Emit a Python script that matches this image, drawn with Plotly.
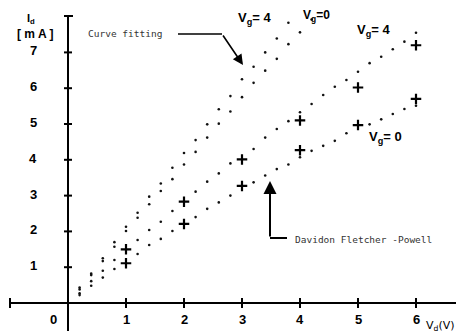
import plotly.graph_objects as go

# ---------------- data ----------------
# curve fitting, Vg = 4
cf_vg4_v = [0.2, 0.4, 0.6, 0.8, 1.0, 1.2, 1.4, 1.6, 1.8, 2.0, 2.2, 2.4, 2.6, 2.8, 3.0, 3.2, 3.4, 3.6, 3.8]
cf_vg4_i = [0.43, 0.82, 1.25, 1.70, 2.13, 2.52, 2.97, 3.34, 3.78, 4.19, 4.55, 4.99, 5.41, 5.78, 6.25, 6.60, 7.00, 7.39, 7.83]
# curve fitting, Vg = 0
cf_vg0_v = [0.2, 0.4, 0.6, 0.8, 1.0, 1.2, 1.4, 1.6, 1.8, 2.0, 2.2, 2.4, 2.6, 2.8, 3.0, 3.2, 3.4, 3.6, 3.8, 4.0, 4.2]
cf_vg0_i = [0.38, 0.78, 1.17, 1.57, 2.01, 2.38, 2.76, 3.13, 3.46, 3.87, 4.22, 4.62, 5.01, 5.35, 5.75, 6.15, 6.49, 6.82, 7.23, 7.56, 7.92]
# Davidon Fletcher-Powell, Vg = 4
dfp_vg4_v = [0.2, 0.4, 0.6, 0.8, 1.2, 1.4, 1.6, 1.8, 2.2, 2.4, 2.6, 2.8, 3.2, 3.4, 3.6, 3.8, 4.0, 4.2, 4.4, 4.6, 4.8, 5.0, 5.2, 5.4, 5.6, 5.8, 6.0]
dfp_vg4_i = [0.27, 0.61, 0.90, 1.20, 1.76, 2.04, 2.27, 2.57, 3.11, 3.39, 3.62, 3.90, 4.30, 4.62, 4.86, 5.08, 5.33, 5.56, 5.81, 6.04, 6.23, 6.46, 6.70, 6.88, 7.09, 7.30, 7.55]
# Davidon Fletcher-Powell, Vg = 0
dfp_vg0_v = [0.2, 0.4, 0.6, 0.8, 1.2, 1.4, 1.6, 1.8, 2.2, 2.4, 2.6, 2.8, 3.2, 3.4, 3.6, 3.8, 4.0, 4.2, 4.4, 4.6, 4.8, 5.2, 5.4, 5.6, 5.8, 6.0]
dfp_vg0_i = [0.22, 0.48, 0.71, 0.95, 1.37, 1.62, 1.79, 2.01, 2.40, 2.63, 2.81, 3.00, 3.37, 3.56, 3.74, 3.87, 4.07, 4.25, 4.39, 4.53, 4.74, 4.99, 5.13, 5.28, 5.42, 5.51]
# measured points
meas_v = [1, 2, 3, 4, 5, 6]
meas_vg4_i = [1.50, 2.83, 4.01, 5.10, 6.02, 7.20]
meas_vg0_i = [1.11, 2.21, 3.27, 4.27, 4.97, 5.70]

x_ticks = [1, 2, 3, 4, 5, 6]
y_ticks = [1, 2, 3, 4, 5, 6, 7]

# ---------------- geometry ----------------
OFF = 8                  # page body margin
W, H = 464 - OFF, 336 - OFF
X0, XS = 68.0 - OFF, 58.0      # figure pixel of Vd=0, pixels per volt
Y0, YS = 303.0 - OFF, 35.8     # figure pixel of Id=0, pixels per mA
xr = [(0 - X0) / XS, (W - X0) / XS]
yr = [(Y0 - H) / YS, (Y0 - 0) / YS]

# helpers take positions in reference-picture pixels
def dx(px):
    return (px - OFF - X0) / XS

def dy(py):
    return (Y0 - (py - OFF)) / YS

def pxp(px):
    return (px - OFF) / W

def pyp(py):
    return 1 - (py - OFF) / H

fig = go.Figure()

dot = dict(size=2.6, color="#111")
for v, i in [(cf_vg4_v, cf_vg4_i), (cf_vg0_v, cf_vg0_i), (dfp_vg4_v, dfp_vg4_i), (dfp_vg0_v, dfp_vg0_i)]:
    fig.add_trace(go.Scatter(x=v, y=i, mode="markers", marker=dot, showlegend=False, hoverinfo="skip"))

plus = dict(symbol="cross-thin", size=7.5, line=dict(width=2.2, color="#000"), color="#000")
for i in [meas_vg4_i, meas_vg0_i]:
    fig.add_trace(go.Scatter(x=meas_v, y=i, mode="markers", marker=plus, showlegend=False, hoverinfo="skip"))

shapes = []
AX = dict(color="#000", width=2)
# x axis
shapes.append(dict(type="line", xref="x", yref="y", x0=dx(10), x1=dx(462), y0=0, y1=0, line=AX))
# y axis
shapes.append(dict(type="line", xref="x", yref="y", x0=0, x1=0, y0=dy(331), y1=dy(16), line=AX))
# y top cap
shapes.append(dict(type="line", xref="x", yref="y", x0=dx(64), x1=dx(73), y0=dy(16), y1=dy(16), line=AX))
# ticks
for t in y_ticks:
    shapes.append(dict(type="line", xref="x", yref="y", x0=dx(64), x1=dx(72), y0=t, y1=t, line=AX))
for t in x_ticks + [dx(10)]:
    shapes.append(dict(type="line", xref="x", yref="y", x0=t, x1=t, y0=dy(298), y1=dy(308), line=AX))
# annotation leader lines
shapes.append(dict(type="line", xref="paper", yref="paper", x0=pxp(178), x1=pxp(222), y0=pyp(34), y1=pyp(34), line=dict(color="#000", width=1.5)))
shapes.append(dict(type="line", xref="paper", yref="paper", x0=pxp(270), x1=pxp(287), y0=pyp(238), y1=pyp(238), line=dict(color="#000", width=2)))

ann = []
TF = dict(family="Liberation Sans", size=13, color="#000")
C = dict(xanchor="center", yanchor="middle", showarrow=False)
for t in x_ticks:
    ann.append(dict(x=t, y=dy(319), xref="x", yref="y", text="<b>%d</b>" % t, font=TF, **C))
ann.append(dict(x=dx(53), y=dy(319), xref="x", yref="y", text="<b>0</b>", font=TF, **C))
for t in y_ticks:
    ann.append(dict(x=dx(33), y=t + 1.5 / YS, xref="x", yref="y", text="<b>%d</b>" % t, font=TF, **C))

LF = dict(family="Liberation Sans", size=13, color="#000")
def lab(px, py, text, font=LF):
    ann.append(dict(x=pxp(px), y=pyp(py), xref="paper", yref="paper", text=text, font=font, **C))

lab(31, 19, "<b>I<sub>d</sub></b>", dict(family="Liberation Sans", size=11, color="#000"))
lab(35, 34, "<b>[ m A ]</b>", dict(family="Liberation Sans", size=12, color="#000"))
lab(255, 18, "<b>V<sub>g</sub>= 4</b>")
lab(316, 16, "<b>V<sub>g</sub>=0</b>", dict(family="Liberation Sans", size=12, color="#000"))
lab(373, 30, "<b>V<sub>g</sub>= 4</b>")
lab(385, 137, "<b>V<sub>g</sub>= 0</b>")
lab(440, 326, "V<sub>d</sub>(V)", dict(family="DejaVu Sans", size=11, color="#000"))

MF = dict(family="DejaVu Sans Mono", size=9.5, color="#333")
ann.append(dict(x=pxp(86), y=pyp(34), xref="paper", yref="paper", text="Curve fitting", showarrow=False,
                xanchor="left", yanchor="middle", font=MF))
ann.append(dict(x=pxp(293), y=pyp(239), xref="paper", yref="paper", text="Davidon Fletcher -Powell", showarrow=False,
                xanchor="left", yanchor="middle", font=MF))

# arrows
ann.append(dict(x=pxp(243), y=pyp(65), xref="paper", yref="paper", ax=222 - 243, ay=34 - 65, text="",
                showarrow=True, arrowhead=2, arrowsize=1.3, arrowwidth=1.6, arrowcolor="#000"))
ann.append(dict(x=pxp(270), y=pyp(181), xref="paper", yref="paper", ax=0, ay=238 - 181, text="",
                showarrow=True, arrowhead=2, arrowsize=1.3, arrowwidth=2, arrowcolor="#000"))

fig.update_layout(
    width=W, height=H, margin=dict(l=0, r=0, t=0, b=0),
    paper_bgcolor="white", plot_bgcolor="white",
    xaxis=dict(range=xr, visible=False, fixedrange=True),
    yaxis=dict(range=yr, visible=False, fixedrange=True),
    shapes=shapes, annotations=ann,
)

fig.write_html("out.html")
